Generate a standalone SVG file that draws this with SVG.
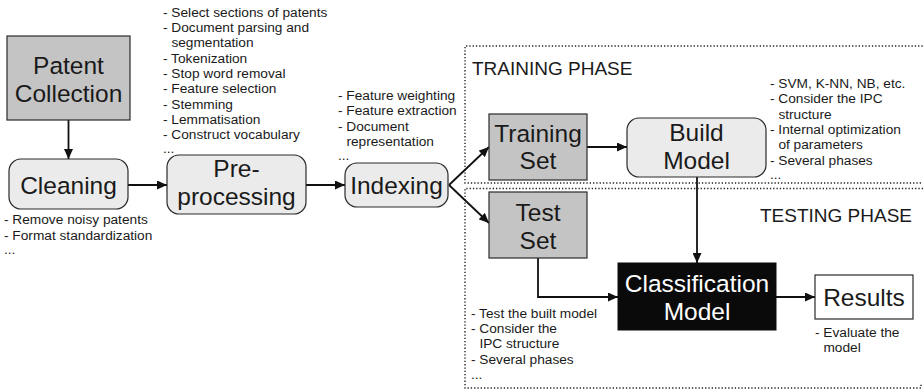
<svg xmlns="http://www.w3.org/2000/svg" width="923" height="392" viewBox="0 0 923 392">
<defs>
<style>
.big{font-family:"Liberation Sans",Arial,sans-serif;font-size:24.5px;fill:#1a1a1a;text-anchor:middle}
.sm{font-family:"Liberation Sans",Arial,sans-serif;font-size:13.7px;fill:#1a1a1a}
.ph{font-family:"Liberation Sans",Arial,sans-serif;font-size:19px;fill:#1a1a1a}
.gray{fill:#c4c4c4;stroke:#2a2a2a;stroke-width:1.2}
.round{fill:#ebebeb;stroke:#2a2a2a;stroke-width:1.2}
.conn{fill:none;stroke:#111;stroke-width:1.8}
.frame{fill:none;stroke:#222;stroke-width:1.4;stroke-dasharray:1.3 2}
</style>
<marker id="ah" markerUnits="userSpaceOnUse" markerWidth="11" markerHeight="9" refX="10" refY="4.5" orient="auto">
<path d="M0,0 L10,4.5 L0,9 z" fill="#111"/>
</marker>
</defs>
<rect width="923" height="392" fill="#fff"/>

<g id="frames">
<path class="frame" d="M921,183 H465 V46 H923"/>
<path class="frame" d="M923,188.5 H465 V388 H921 V384"/>
<text class="ph" x="472" y="75">TRAINING PHASE</text>
<text class="ph" x="760" y="222">TESTING PHASE</text>
</g>

<g id="connectors">
<path class="conn" d="M68.5,120 V159" marker-end="url(#ah)"/>
<path class="conn" d="M128,185 H167" marker-end="url(#ah)"/>
<path class="conn" d="M306,185 H345" marker-end="url(#ah)"/>
<path class="conn" d="M449,185 L489,147" marker-end="url(#ah)"/>
<path class="conn" d="M449,185 L489,223" marker-end="url(#ah)"/>
<path class="conn" d="M587,147 H627" marker-end="url(#ah)"/>
<path class="conn" d="M697,177 V263" marker-end="url(#ah)"/>
<path class="conn" d="M538,258 V297 H618" marker-end="url(#ah)"/>
<path class="conn" d="M776,297 H815" marker-end="url(#ah)"/>
</g>

<g id="patent-collection">
<rect class="gray" x="7" y="36" width="123" height="84"/>
<text class="big" x="68.5" y="74">Patent</text>
<text class="big" x="68.5" y="101.7">Collection</text>
</g>

<g id="cleaning">
<rect class="round" x="9" y="159" width="119" height="50" rx="12"/>
<text class="big" x="68.5" y="193.5">Cleaning</text>
<text class="sm" x="4" y="224">- Remove noisy patents</text>
<text class="sm" x="4" y="239.5">- Format standardization</text>
<text class="sm" x="4" y="253.5">...</text>
</g>

<g id="preprocessing">
<rect class="round" x="167" y="155" width="139" height="59" rx="12"/>
<text class="big" x="236.5" y="177.3">Pre-</text>
<text class="big" x="236.5" y="205">processing</text>
<text class="sm" x="163" y="16.6">- Select sections of patents</text>
<text class="sm" x="163" y="32">- Document parsing and</text>
<text class="sm" x="171.4" y="47.3">segmentation</text>
<text class="sm" x="163" y="62.6">- Tokenization</text>
<text class="sm" x="163" y="77.9">- Stop word removal</text>
<text class="sm" x="163" y="93.2">- Feature selection</text>
<text class="sm" x="163" y="108.5">- Stemming</text>
<text class="sm" x="163" y="123.8">- Lemmatisation</text>
<text class="sm" x="163" y="139.1">- Construct vocabulary</text>
<text class="sm" x="163" y="152.5">...</text>
</g>

<g id="indexing">
<rect class="round" x="345" y="163" width="103" height="44" rx="12"/>
<text class="big" x="396.5" y="194">Indexing</text>
<text class="sm" x="338" y="100">- Feature weighting</text>
<text class="sm" x="338" y="115">- Feature extraction</text>
<text class="sm" x="338" y="131">- Document</text>
<text class="sm" x="346.4" y="146">representation</text>
<text class="sm" x="338" y="159.5">...</text>
</g>

<g id="training-set">
<rect class="gray" x="489" y="114" width="98" height="66"/>
<text class="big" x="538" y="141.7">Training</text>
<text class="big" x="538" y="169">Set</text>
</g>

<g id="test-set">
<rect class="gray" x="489" y="192" width="98" height="66"/>
<text class="big" x="538" y="221">Test</text>
<text class="big" x="538" y="249">Set</text>
<text class="sm" x="471" y="318">- Test the built model</text>
<text class="sm" x="471" y="333">- Consider the</text>
<text class="sm" x="479.4" y="348.3">IPC structure</text>
<text class="sm" x="471" y="363.7">- Several phases</text>
<text class="sm" x="471" y="378.5">...</text>
</g>

<g id="build-model">
<rect class="round" x="627" y="118" width="139" height="59" rx="12"/>
<text class="big" x="696.5" y="141">Build</text>
<text class="big" x="696.5" y="168.5">Model</text>
<text class="sm" x="770" y="87.6">- SVM, K-NN, NB, etc.</text>
<text class="sm" x="770" y="103">- Consider the IPC</text>
<text class="sm" x="778.4" y="118.5">structure</text>
<text class="sm" x="770" y="134">- Internal optimization</text>
<text class="sm" x="778.4" y="149.3">of parameters</text>
<text class="sm" x="770" y="164.7">- Several phases</text>
<text class="sm" x="770" y="178.5">...</text>
</g>

<g id="classification-model">
<rect x="618" y="263" width="158" height="67" fill="#0a0a0a" stroke="#0a0a0a"/>
<text class="big" x="697" y="291.7" style="fill:#fff">Classification</text>
<text class="big" x="697" y="320" style="fill:#fff">Model</text>
</g>

<g id="results">
<rect x="815" y="275" width="98" height="44" fill="#fff" stroke="#2a2a2a" stroke-width="1.2"/>
<text class="big" x="864" y="306">Results</text>
<text class="sm" x="815" y="337">- Evaluate the</text>
<text class="sm" x="823.4" y="352">model</text>
</g>
</svg>
